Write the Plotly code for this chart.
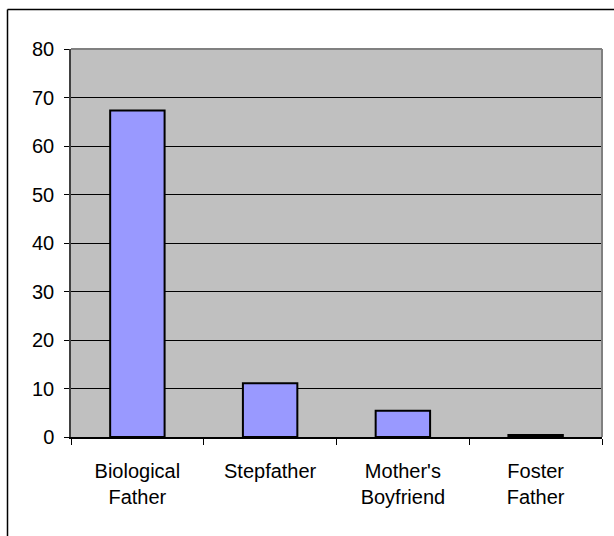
import plotly.graph_objects as go

categories = ["Biological<br>Father", "Stepfather", "Mother's<br>Boyfriend", "Foster<br>Father"]
values = [67.3, 11.1, 5.4, 0.4]
y_ticks = [0, 10, 20, 30, 40, 50, 60, 70, 80]

W, H = 614, 536
L, R, T, B = 71, 12, 49, 99
pw, ph = W - L - R, H - T - B

def px_x(p):
    return (p - L) / pw

def px_y(p):
    return (H - B - p) / ph

fig = go.Figure(go.Bar(
    x=categories, y=values,
    marker=dict(color="#9999FF", line=dict(color="black", width=2)),
))

font = dict(family="Liberation Sans, Arial, sans-serif", size=20, color="black")

fig.update_layout(
    width=W, height=H,
    margin=dict(l=L, r=R, t=T, b=B),
    paper_bgcolor="white", plot_bgcolor="#C0C0C0",
    bargap=0.59, showlegend=False, font=font,
    xaxis=dict(showgrid=False, ticks="outside", tickson="boundaries", ticklen=6,
               tickcolor="black", showline=True, linecolor="black", linewidth=1.5,
               tickfont=font, ticklabelstandoff=15),
    yaxis=dict(range=[0, 80], tickvals=y_ticks, showgrid=True, gridcolor="black", gridwidth=1,
               ticks="outside", ticklen=5, tickcolor="black", showline=True,
               linecolor="#404040", linewidth=1.5, tickfont=font, zeroline=False,
               ticklabelstandoff=6),
    shapes=[
        # plot area top and right border
        dict(type="line", xref="paper", yref="paper", x0=0, x1=1, y0=1, y1=1,
             line=dict(color="#808080", width=2)),
        dict(type="line", xref="paper", yref="paper", x0=1, x1=1, y0=0, y1=1,
             line=dict(color="#808080", width=2)),
        # outer chart border (extends beyond the picture on right and bottom)
        dict(type="line", xref="paper", yref="paper", x0=px_x(7.5), x1=px_x(630),
             y0=px_y(9.5), y1=px_y(9.5), line=dict(color="black", width=1.5)),
        dict(type="line", xref="paper", yref="paper", x0=px_x(7.5), x1=px_x(7.5),
             y0=px_y(9.5), y1=px_y(560), line=dict(color="black", width=1.5)),
    ],
)

fig.write_html("out.html")
